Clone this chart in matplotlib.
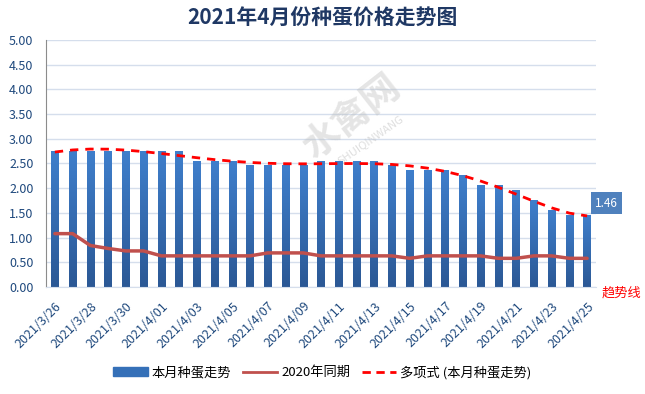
import numpy as np
import matplotlib
matplotlib.use('Agg')
import matplotlib.pyplot as plt
from matplotlib.patches import Patch
from matplotlib.lines import Line2D

plt.rcParams['font.family'] = ['Noto Sans CJK SC', 'DejaVu Sans']

# data
dates = ['2021/3/26', '2021/3/27', '2021/3/28', '2021/3/29', '2021/3/30', '2021/3/31',
         '2021/4/01', '2021/4/02', '2021/4/03', '2021/4/04', '2021/4/05', '2021/4/06',
         '2021/4/07', '2021/4/08', '2021/4/09', '2021/4/10', '2021/4/11', '2021/4/12',
         '2021/4/13', '2021/4/14', '2021/4/15', '2021/4/16', '2021/4/17', '2021/4/18',
         '2021/4/19', '2021/4/20', '2021/4/21', '2021/4/22', '2021/4/23', '2021/4/24',
         '2021/4/25']
price_2021 = [2.76, 2.76, 2.76, 2.76, 2.76, 2.76, 2.76, 2.76, 2.56, 2.56, 2.55,
              2.46, 2.46, 2.46, 2.46, 2.56, 2.56, 2.56, 2.56, 2.46, 2.36, 2.36,
              2.36, 2.26, 2.06, 2.06, 1.96, 1.76, 1.56, 1.46, 1.46]
price_2020 = [1.08, 1.08, 0.84, 0.78, 0.73, 0.73, 0.63, 0.63, 0.63, 0.63, 0.63,
              0.63, 0.69, 0.69, 0.69, 0.63, 0.63, 0.63, 0.63, 0.63, 0.58, 0.63,
              0.63, 0.63, 0.63, 0.58, 0.58, 0.63, 0.63, 0.58, 0.58]
last_label = '1.46'

navy = '#1F497D'
x = np.arange(len(dates))

fig = plt.figure(figsize=(6.45, 3.94), dpi=100)
ax = fig.add_axes([0.0713, 0.2716, 0.8527, 0.6269])

# bars with a vertical gradient
bars = ax.bar(x, price_2021, width=0.42, color='none', zorder=2)
grad = np.linspace(0, 1, 256).reshape(-1, 1)
cmap = matplotlib.colors.LinearSegmentedColormap.from_list('b', ['#2B5895', '#3F7FCC'])
for b in bars:
    x0, w, h = b.get_x(), b.get_width(), b.get_height()
    im = ax.imshow(grad, extent=[x0, x0 + w, 0, h], origin='lower', cmap=cmap,
                   aspect='auto', zorder=2)
    im.set_clip_path(b)

ax.plot(x, price_2020, color='#C0504D', lw=2.5, zorder=3, solid_capstyle='round')

# polynomial trend of this month's prices
coef = np.polyfit(x, price_2021, 6)
trend = np.polyval(coef, x)
ax.plot(x, trend, color='#FF0000', lw=2, ls=(0, (3, 2.5)), zorder=4)

ax.set_xlim(-0.5, len(dates) - 0.5)
ax.set_ylim(0, 5)
ax.set_yticks(np.arange(0, 5.01, 0.5))
ax.set_yticklabels([f'{v:.2f}' for v in np.arange(0, 5.01, 0.5)], color=navy, fontsize=9)
ax.set_xticks(x[::2])
ax.set_xticklabels(dates[::2], rotation=45, ha='right', rotation_mode='anchor',
                   color=navy, fontsize=9)
ax.tick_params(axis='y', length=0, pad=9)
ax.tick_params(axis='x', length=0, pad=9)
ax.grid(axis='y', color='#D5DEEC', lw=1, zorder=0)
ax.set_axisbelow(True)
for s in ['top', 'right']:
    ax.spines[s].set_visible(False)
ax.spines['left'].set_color('#8C8C8C')
ax.spines['bottom'].set_color('#D5DEEC')

# watermark
ax.text(16.7, 3.44, '水禽网', fontsize=27, color='#BEBEBE', alpha=0.4, rotation=38,
        ha='center', va='center', fontweight='bold', zorder=1)
ax.text(17.8, 2.98, 'SHUIQINWANG', fontsize=8, color='#BEBEBE', alpha=0.5, rotation=35,
        ha='center', va='center', zorder=1)

ax.text(31.07, 1.70, last_label, color='white', fontsize=8.5, ha='center', va='center',
        clip_on=False, bbox=dict(boxstyle='square,pad=0.35', fc='#4F81BD', ec='none'))

fig.text(0.5, 0.953, '2021年4月份种蛋价格走势图', ha='center', va='center',
         fontsize=15, fontweight='bold', color='#1F3864')
fig.text(0.963, 0.256, '趋势线', ha='center', va='center', fontsize=9.5, color='#FF0000')

handles = [Patch(color='#3570B8'),
           Line2D([], [], color='#C0504D', lw=2),
           Line2D([], [], color='#FF0000', lw=2, ls=(0, (3, 2)))]
labels = ['本月种蛋走势', '2020年同期', '多项式 (本月种蛋走势)']
fig.legend(handles, labels, loc='center', bbox_to_anchor=(0.5, 0.055), ncol=3,
           frameon=False, fontsize=9.5, handlelength=2.6, columnspacing=0.9,
           handletextpad=0.3)

fig.savefig('out.png', dpi=100)
